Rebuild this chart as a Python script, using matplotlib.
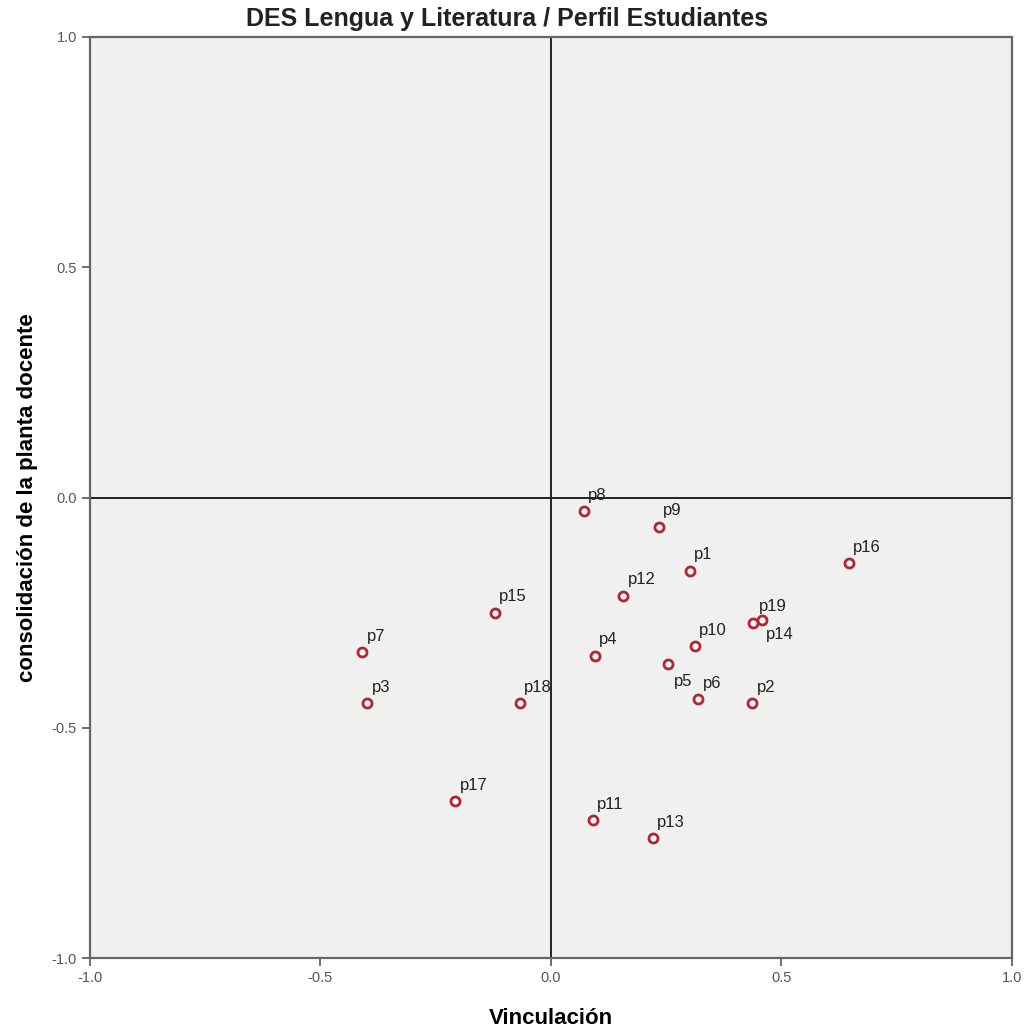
import matplotlib
matplotlib.use("Agg")
import matplotlib.pyplot as plt

plt.rcParams['font.family'] = ['Liberation Sans', 'DejaVu Sans']

labels = ['p1', 'p2', 'p3', 'p4', 'p5', 'p6', 'p7', 'p8', 'p9', 'p10',
          'p11', 'p12', 'p13', 'p14', 'p15', 'p16', 'p17', 'p18', 'p19']
vinculacion = [0.302, 0.437, -0.398, 0.096, 0.254, 0.320, -0.409, 0.072, 0.235, 0.313,
               0.091, 0.157, 0.222, 0.439, -0.122, 0.646, -0.207, -0.067, 0.457]
consolidacion = [-0.159, -0.446, -0.446, -0.343, -0.361, -0.437, -0.335, -0.030, -0.063, -0.322,
                 -0.700, -0.213, -0.739, -0.272, -0.250, -0.143, -0.659, -0.446, -0.265]

# label offsets in points (most sit above-right of the marker)
offsets = {'p5': (4, -18), 'p14': (9, -14), 'p19': (-2, 4)}

fig = plt.figure(figsize=(10.26, 10.27), dpi=100)
ax = fig.add_axes([0.0877, 0.067, 0.8985, 0.897])
ax.set_facecolor('#f0f0f0')

ax.axhline(0, color='#222222', lw=1.4, zorder=1)
ax.axvline(0, color='#222222', lw=1.4, zorder=1)

ax.plot(vinculacion, consolidacion, 'o', ms=6.5, mfc='white', mec='#b5232f',
        mew=2, zorder=3)

for lab, x, y in zip(labels, vinculacion, consolidacion):
    dx, dy = offsets.get(lab, (3, 6))
    ax.annotate(lab, (x, y), xytext=(dx, dy), textcoords='offset points',
                ha='left', va='bottom', fontsize=12, color='#222222')

ax.set_xlim(-1, 1)
ax.set_ylim(-1, 1)
ticks = [-1.0, -0.5, 0.0, 0.5, 1.0]
ax.set_xticks(ticks)
ax.set_yticks(ticks)
ax.set_xticklabels(['-1.0', '-0.5', '0.0', '0.5', '1.0'])
ax.set_yticklabels(['-1.0', '-0.5', '0.0', '0.5', '1.0'])
ax.tick_params(direction='out', length=6, width=1.2, colors='#555555',
               labelsize=10.5, labelcolor='#555555')

for s in ax.spines.values():
    s.set_color('#666666')
    s.set_linewidth(1.6)

ax.set_title('DES Lengua y Literatura / Perfil Estudiantes', fontsize=18,
             fontweight='bold', color='#222222', x=0.452, pad=8)
ax.set_xlabel('Vinculación', fontsize=16, fontweight='bold', labelpad=16)
ax.set_ylabel('consolidación de la planta docente', fontsize=16,
              fontweight='bold', labelpad=10)

fig.savefig('out.png', dpi=100)
